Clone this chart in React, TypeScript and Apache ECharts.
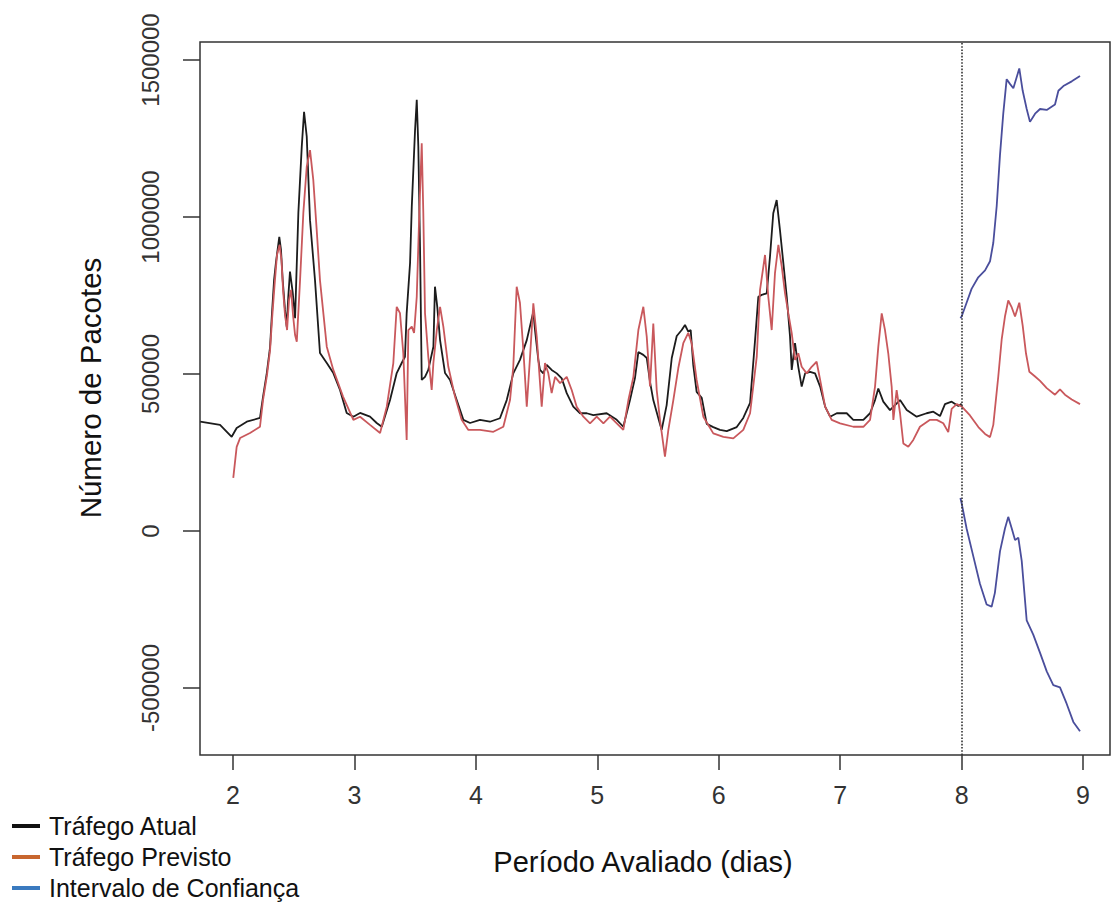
import React, { useEffect, useRef } from "react";
import * as echarts from "echarts";

const xTickValues = [2, 3, 4, 5, 6, 7, 8, 9];
const yTickValues = [-500000, 0, 500000, 1000000, 1500000];
const forecastStartDay = 8;

const legendLabels = ["Tráfego Atual", "Tráfego Previsto", "Intervalo de Confiança"];
const xTitle = "Período Avaliado (dias)";
const yTitle = "Número de Pacotes";

// [day, packets]
const actualTraffic: [number, number][] = [
  [1.73, 348000], [1.893, 338000], [1.989, 300000], [2.03, 328000], [2.113, 348000], [2.222, 360000],
  [2.247, 427000], [2.278, 503000], [2.305, 586000], [2.319, 682000], [2.338, 799000], [2.354, 857000],
  [2.381, 937000], [2.395, 895000], [2.409, 799000], [2.428, 704000], [2.442, 651000], [2.455, 746000],
  [2.469, 826000], [2.492, 758000], [2.511, 678000], [2.538, 1013000], [2.566, 1224000], [2.585, 1335000],
  [2.607, 1256000], [2.634, 990000], [2.675, 799000], [2.716, 567000], [2.772, 535000], [2.826, 503000],
  [2.881, 449000], [2.936, 376000], [2.991, 364000], [3.046, 376000], [3.128, 364000], [3.183, 344000],
  [3.225, 332000], [3.293, 417000], [3.348, 503000], [3.389, 535000], [3.416, 555000], [3.43, 694000],
  [3.458, 854000], [3.472, 1033000], [3.499, 1277000], [3.513, 1373000], [3.526, 1224000], [3.54, 905000],
  [3.554, 481000], [3.581, 491000], [3.608, 513000], [3.65, 587000], [3.663, 778000], [3.682, 714000],
  [3.705, 608000], [3.746, 503000], [3.787, 481000], [3.842, 417000], [3.897, 354000], [3.952, 344000],
  [4.034, 354000], [4.116, 348000], [4.198, 359000], [4.254, 417000], [4.308, 502000], [4.363, 545000],
  [4.419, 608000], [4.473, 698000], [4.487, 640000], [4.514, 545000], [4.528, 513000], [4.555, 502000],
  [4.583, 529000], [4.624, 513000], [4.666, 502000], [4.707, 486000], [4.748, 439000], [4.802, 396000],
  [4.858, 375000], [4.913, 375000], [4.967, 369000], [5.077, 375000], [5.16, 354000], [5.214, 332000],
  [5.269, 417000], [5.31, 487000], [5.338, 570000], [5.379, 561000], [5.407, 551000], [5.434, 475000],
  [5.461, 417000], [5.516, 341000], [5.53, 322000], [5.571, 401000], [5.613, 551000], [5.654, 621000],
  [5.695, 640000], [5.722, 656000], [5.749, 635000], [5.769, 640000], [5.79, 529000], [5.818, 443000],
  [5.86, 424000], [5.901, 341000], [5.955, 331000], [6.01, 322000], [6.066, 318000], [6.148, 331000],
  [6.202, 360000], [6.258, 408000], [6.299, 608000], [6.326, 746000], [6.354, 752000], [6.395, 757000],
  [6.422, 874000], [6.449, 1012000], [6.477, 1054000], [6.504, 959000], [6.532, 853000], [6.56, 746000],
  [6.587, 619000], [6.601, 513000], [6.628, 598000], [6.655, 523000], [6.683, 460000], [6.711, 502000],
  [6.752, 507000], [6.793, 502000], [6.835, 460000], [6.876, 396000], [6.917, 364000], [6.972, 375000],
  [7.054, 375000], [7.108, 354000], [7.191, 354000], [7.246, 375000], [7.287, 417000], [7.314, 454000],
  [7.355, 412000], [7.41, 385000], [7.493, 417000], [7.548, 385000], [7.63, 364000], [7.712, 375000],
  [7.767, 380000], [7.822, 366000], [7.863, 404000], [7.918, 412000], [7.973, 398000], [8.0, 405000],
];

const forecastTraffic: [number, number][] = [
  [2.002, 169000], [2.03, 268000], [2.058, 296000], [2.14, 312000], [2.222, 332000], [2.247, 417000],
  [2.28, 497000], [2.305, 576000], [2.321, 672000], [2.342, 783000], [2.362, 879000], [2.383, 911000],
  [2.399, 863000], [2.412, 768000], [2.428, 688000], [2.445, 640000], [2.461, 736000], [2.478, 768000],
  [2.494, 688000], [2.511, 624000], [2.525, 603000], [2.552, 799000], [2.579, 1013000], [2.607, 1160000],
  [2.634, 1213000], [2.661, 1118000], [2.689, 959000], [2.716, 799000], [2.772, 587000], [2.826, 513000],
  [2.906, 428000], [2.991, 354000], [3.046, 364000], [3.128, 338000], [3.211, 312000], [3.266, 396000],
  [3.32, 535000], [3.348, 714000], [3.375, 694000], [3.402, 567000], [3.43, 290000], [3.444, 640000],
  [3.472, 651000], [3.491, 631000], [3.513, 746000], [3.534, 1013000], [3.554, 1235000], [3.567, 1013000],
  [3.581, 694000], [3.608, 555000], [3.636, 449000], [3.65, 535000], [3.678, 640000], [3.705, 714000],
  [3.732, 651000], [3.773, 523000], [3.828, 428000], [3.883, 354000], [3.938, 322000], [4.034, 322000],
  [4.144, 316000], [4.226, 332000], [4.281, 417000], [4.308, 523000], [4.336, 778000], [4.363, 726000],
  [4.391, 576000], [4.419, 396000], [4.446, 555000], [4.473, 725000], [4.501, 619000], [4.542, 396000],
  [4.569, 535000], [4.596, 503000], [4.624, 439000], [4.652, 491000], [4.693, 471000], [4.748, 491000],
  [4.789, 449000], [4.83, 396000], [4.885, 364000], [4.94, 343000], [4.995, 364000], [5.05, 343000],
  [5.104, 364000], [5.16, 343000], [5.214, 322000], [5.256, 417000], [5.297, 491000], [5.338, 640000],
  [5.379, 714000], [5.407, 619000], [5.434, 460000], [5.461, 661000], [5.489, 449000], [5.516, 354000],
  [5.557, 237000], [5.585, 322000], [5.626, 417000], [5.667, 519000], [5.708, 598000], [5.749, 631000],
  [5.777, 598000], [5.818, 481000], [5.873, 364000], [5.955, 311000], [6.038, 300000], [6.12, 295000],
  [6.202, 322000], [6.258, 375000], [6.313, 555000], [6.34, 768000], [6.381, 879000], [6.408, 746000],
  [6.436, 640000], [6.463, 821000], [6.491, 911000], [6.519, 842000], [6.546, 757000], [6.573, 693000],
  [6.601, 630000], [6.628, 545000], [6.655, 566000], [6.683, 523000], [6.724, 502000], [6.765, 523000],
  [6.806, 539000], [6.835, 481000], [6.876, 396000], [6.93, 354000], [6.999, 343000], [7.108, 332000],
  [7.191, 332000], [7.246, 354000], [7.287, 460000], [7.314, 587000], [7.342, 693000], [7.369, 640000],
  [7.396, 566000], [7.424, 460000], [7.438, 354000], [7.465, 449000], [7.493, 375000], [7.52, 279000],
  [7.561, 268000], [7.602, 290000], [7.657, 332000], [7.74, 354000], [7.795, 354000], [7.849, 343000],
  [7.89, 315000], [7.918, 389000], [7.96, 404000], [8.0, 397000], [8.069, 368000], [8.138, 331000],
  [8.193, 309000], [8.234, 299000], [8.261, 338000], [8.302, 492000], [8.33, 610000], [8.357, 683000],
  [8.384, 734000], [8.413, 712000], [8.44, 683000], [8.475, 727000], [8.503, 654000], [8.53, 566000],
  [8.558, 507000], [8.605, 492000], [8.646, 478000], [8.701, 455000], [8.769, 434000], [8.81, 451000],
  [8.851, 434000], [8.907, 419000], [8.975, 404000],
];

const upperBound: [number, number][] = [
  [7.99, 678000], [8.0, 683000], [8.041, 727000], [8.082, 771000], [8.137, 808000], [8.193, 830000],
  [8.234, 859000], [8.261, 918000], [8.289, 1035000], [8.316, 1197000], [8.343, 1329000], [8.371, 1439000],
  [8.398, 1424000], [8.426, 1410000], [8.454, 1446000], [8.475, 1473000], [8.503, 1402000], [8.536, 1344000],
  [8.563, 1303000], [8.605, 1329000], [8.646, 1344000], [8.701, 1341000], [8.769, 1358000], [8.797, 1402000],
  [8.838, 1417000], [8.907, 1432000], [8.975, 1449000],
];

const lowerBound: [number, number][] = [
  [7.99, 105000], [8.0, 89000], [8.041, 8000], [8.096, -80000], [8.151, -168000], [8.206, -234000],
  [8.247, -241000], [8.274, -197000], [8.316, -65000], [8.357, 8000], [8.384, 45000], [8.413, 8000],
  [8.44, -29000], [8.467, -21000], [8.495, -95000], [8.536, -285000], [8.59, -330000], [8.646, -388000],
  [8.701, -447000], [8.755, -491000], [8.81, -498000], [8.865, -550000], [8.92, -608000], [8.975, -638000],
];

const FONT = "'Liberation Sans', Arial, sans-serif";
const lineColors = { actual: "#1c1c1c", forecast: "#c9585c", interval: "#4a4e9c" };
const legendColors = ["#111111", "#c8662e", "#3a7abf"];

export default function App() {
  const ref = useRef<HTMLDivElement>(null);

  useEffect(() => {
    if (!ref.current) return;
    const chart = echarts.init(ref.current, null, { renderer: "svg" });

    const legendGraphics: any[] = [];
    legendLabels.forEach((label, i) => {
      const cy = 826 + i * 31;
      legendGraphics.push({
        type: "line",
        shape: { x1: 12, y1: cy, x2: 40, y2: cy },
        style: { stroke: legendColors[i], lineWidth: 4 },
      });
      legendGraphics.push({
        type: "text",
        x: 49,
        y: cy,
        style: {
          text: label,
          font: `25px ${FONT}`,
          fill: "#111",
          textAlign: "left",
          textVerticalAlign: "middle",
        },
      });
    });

    const option = {
      animation: false,
      backgroundColor: "#ffffff",
      grid: {
        left: 200,
        top: 42,
        right: 2,
        bottom: 148,
        show: true,
        borderColor: "#333",
        borderWidth: 1.5,
        backgroundColor: "transparent",
      },
      xAxis: {
        type: "value",
        min: 1.728,
        max: 9.222,
        axisLine: { show: false, onZero: false },
        splitLine: { show: false },
        axisTick: {
          show: true,
          inside: false,
          length: 15,
          customValues: xTickValues,
          lineStyle: { color: "#333", width: 1.5 },
        },
        axisLabel: {
          customValues: xTickValues,
          margin: 27,
          fontSize: 25,
          fontFamily: FONT,
          color: "#333",
          formatter: (v: number) => String(v),
        },
      },
      yAxis: {
        type: "value",
        min: -713375,
        max: 1557325,
        axisLine: { show: false, onZero: false },
        splitLine: { show: false },
        axisTick: {
          show: true,
          inside: false,
          length: 17,
          customValues: yTickValues,
          lineStyle: { color: "#333", width: 1.5 },
        },
        axisLabel: {
          customValues: yTickValues,
          rotate: 90,
          margin: 38,
          fontSize: 24,
          fontFamily: FONT,
          color: "#333",
          formatter: (v: number) => String(v),
        },
      },
      graphic: [
        {
          type: "text",
          x: 643,
          y: 862,
          style: {
            text: xTitle,
            font: `29px ${FONT}`,
            fill: "#111",
            textAlign: "center",
            textVerticalAlign: "middle",
          },
        },
        {
          type: "text",
          x: 90,
          y: 388,
          rotation: Math.PI / 2,
          style: {
            text: yTitle,
            font: `29.5px ${FONT}`,
            fill: "#111",
            textAlign: "center",
            textVerticalAlign: "middle",
          },
        },
        ...legendGraphics,
      ],
      series: [
        {
          name: legendLabels[0],
          type: "line",
          data: actualTraffic,
          showSymbol: false,
          symbol: "none",
          lineStyle: { color: lineColors.actual, width: 1.8 },
          z: 2,
          markLine: {
            silent: true,
            symbol: "none",
            label: { show: false },
            lineStyle: { color: "#333", type: "dotted", width: 1.6 },
            data: [{ xAxis: forecastStartDay }],
          },
        },
        {
          name: legendLabels[1],
          type: "line",
          data: forecastTraffic,
          showSymbol: false,
          symbol: "none",
          lineStyle: { color: lineColors.forecast, width: 1.8 },
          z: 3,
        },
        {
          name: legendLabels[2] + " (sup)",
          type: "line",
          data: upperBound,
          showSymbol: false,
          symbol: "none",
          lineStyle: { color: lineColors.interval, width: 1.8 },
          z: 3,
        },
        {
          name: legendLabels[2] + " (inf)",
          type: "line",
          data: lowerBound,
          showSymbol: false,
          symbol: "none",
          lineStyle: { color: lineColors.interval, width: 1.8 },
          z: 3,
        },
      ],
    };

    chart.setOption(option as any);
    return () => chart.dispose();
  }, []);

  return (
    <div
      ref={ref}
      style={{ position: "absolute", left: 0, top: 0, width: 1112, height: 903, background: "#fff" }}
    />
  );
}
